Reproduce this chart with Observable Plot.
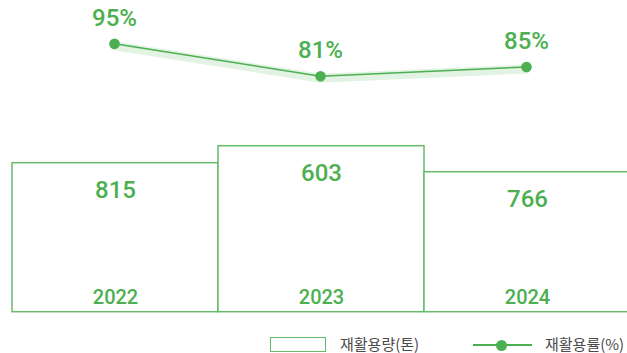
<!DOCTYPE html>
<html>
<head>
<meta charset="utf-8">
<script src="https://cdn.jsdelivr.net/npm/d3@7"></script>
<script src="https://cdn.jsdelivr.net/npm/@observablehq/plot@0.6"></script>
<style>
  html, body { margin: 0; padding: 0; background: #fff; }
  #wrap { position: relative; width: 627px; height: 353px; overflow: hidden; }
  #wrap svg { position: absolute; left: 0; top: 0; overflow: visible; }
  .legend { position: absolute; top: 330px; left: 0; width: 627px; height: 23px;
    font-family: "Noto Sans CJK KR", "Noto Sans", sans-serif; font-size: 15px; color: #4a4a4a; }
  .legend .sw-rect { position: absolute; left: 270px; top: 7px; width: 56px; height: 15px;
    border: 1.5px solid #66bb6a; box-sizing: border-box; }
  .legend .sw-line { position: absolute; left: 473px; top: 14px; width: 59px; height: 1.5px; background: #4caf50; }
  .legend .sw-dot { position: absolute; left: 496px; top: 9.5px; width: 11px; height: 11px; border-radius: 50%; background: #4caf50; }
  .legend .lab1 { position: absolute; left: 340px; top: 3px; line-height: 22px; }
  .legend .lab2 { position: absolute; left: 545px; top: 3px; line-height: 22px; }
</style>
</head>
<body>
<div id="wrap"></div>
<script>
// Data
const years = ["2022", "2023", "2024"];
const amount = [815, 603, 766];          // 재활용량(톤) labels
const barLevel = [149, 166, 140];        // bar lengths as drawn in the picture (relative units)
const rate = [95, 81, 85];               // 재활용률(%)
const legendLabels = ["재활용량(톤)", "재활용률(%)"];

const green = "#4caf50";
const barStroke = "#66bb6a";
const numFont = "Roboto, 'Noto Sans', sans-serif";

const rows = years.map((y, i) => ({year: y, amount: amount[i], level: barLevel[i], rate: rate[i]}));

const wrap = document.getElementById("wrap");

const bars = Plot.plot({
  width: 627, height: 330,
  margin: 0,
  x: {type: "band", domain: years, range: [11, 630], padding: 0, axis: null},
  y: {domain: [0, 200], range: [311.7, 111.7], axis: null},
  marks: [
    Plot.barY(rows, {x: "year", y: "level", fill: "white", stroke: barStroke, strokeWidth: 1.5, inset: 0}),
    Plot.text(rows, {x: "year", y: "level", text: d => String(d.amount), dy: 35, lineAnchor: "bottom",
      fill: green, fontSize: 24, fontWeight: 500, fontFamily: numFont}),
    Plot.text(rows, {x: "year", y: () => 0, text: "year", dy: -8.5, lineAnchor: "bottom",
      fill: green, fontSize: 20, fontWeight: 500, fontFamily: numFont})
  ]
});
bars.style.background = "transparent";
wrap.appendChild(bars);

const line = Plot.plot({
  width: 627, height: 330,
  margin: 0,
  x: {type: "point", domain: years, range: [11, 629], padding: 0.5, axis: null},
  y: {domain: [0, 100], range: [262.8, 31.8], axis: null},
  marks: [
    Plot.line(rows, {x: "year", y: "rate", stroke: green, strokeWidth: 9, strokeOpacity: 0.16, dy: 2}),
    Plot.line(rows, {x: "year", y: "rate", stroke: green, strokeWidth: 1.5}),
    Plot.dot(rows, {x: "year", y: "rate", r: 5.3, fill: green}),
    Plot.text(rows, {x: "year", y: "rate", text: d => d.rate + "%", dy: -18, lineAnchor: "bottom",
      fill: green, fontSize: 24, fontWeight: 500, fontFamily: numFont})
  ]
});
line.style.background = "transparent";
wrap.appendChild(line);

const legend = document.createElement("div");
legend.className = "legend";
legend.innerHTML = `<div class="sw-rect"></div><div class="lab1">${legendLabels[0]}</div>
  <div class="sw-line"></div><div class="sw-dot"></div><div class="lab2">${legendLabels[1]}</div>`;
wrap.appendChild(legend);
</script>
</body>
</html>
